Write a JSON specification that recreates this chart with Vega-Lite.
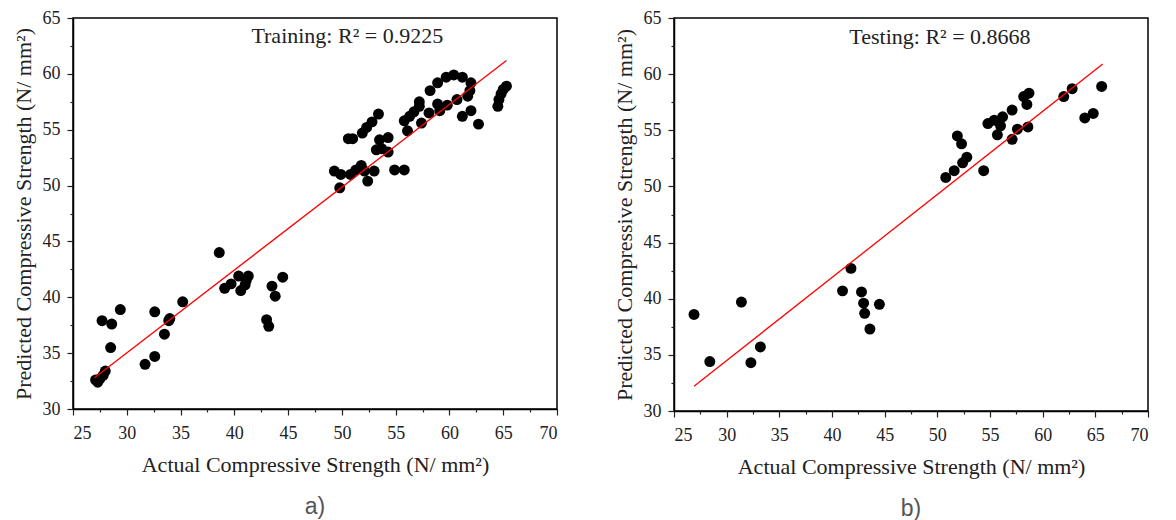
{
  "$schema": "https://vega.github.io/schema/vega-lite/v6.json",
  "background": "white",
  "padding": {"left": 11, "top": 8, "right": 0, "bottom": 0},
  "spacing": 53,
  "config": {
    "view": {"stroke": "black", "strokeWidth": 1.5},
    "font": "Liberation Serif",
    "axis": {
      "grid": false,
      "domainColor": "black",
      "domainWidth": 1.5,
      "tickColor": "#222",
      "tickWidth": 1.2,
      "labelFont": "Liberation Serif",
      "labelFontSize": 18,
      "labelColor": "#222",
      "titleFont": "Liberation Serif",
      "titleFontSize": 22,
      "titleFontWeight": "normal",
      "titleColor": "#222"
    },
    "title": {"font": "Liberation Sans", "fontSize": 23, "fontWeight": "normal", "color": "#555"}
  },
  "datasets": {
    "training": [
      {"x": 27.1, "y": 32.6}, {"x": 27.3, "y": 32.4}, {"x": 27.5, "y": 32.7}, {"x": 27.8, "y": 33.0}, {"x": 28.0, "y": 33.4},
      {"x": 27.7, "y": 37.9}, {"x": 28.6, "y": 37.6}, {"x": 28.5, "y": 35.5}, {"x": 29.4, "y": 38.9}, {"x": 31.7, "y": 34.0},
      {"x": 32.6, "y": 34.7}, {"x": 32.6, "y": 38.7}, {"x": 33.5, "y": 36.7}, {"x": 33.9, "y": 37.9}, {"x": 34.0, "y": 38.1},
      {"x": 35.2, "y": 39.6}, {"x": 38.6, "y": 44.0}, {"x": 39.1, "y": 40.8}, {"x": 39.7, "y": 41.2}, {"x": 40.4, "y": 41.9},
      {"x": 40.6, "y": 40.6}, {"x": 41.0, "y": 41.1}, {"x": 41.1, "y": 41.5}, {"x": 41.3, "y": 41.9}, {"x": 43.0, "y": 38.0},
      {"x": 43.2, "y": 37.4}, {"x": 43.5, "y": 41.0}, {"x": 43.8, "y": 40.1}, {"x": 44.5, "y": 41.8}, {"x": 49.3, "y": 51.3},
      {"x": 49.9, "y": 51.0}, {"x": 49.8, "y": 49.8}, {"x": 50.6, "y": 54.2}, {"x": 51.0, "y": 54.2}, {"x": 50.8, "y": 51.0},
      {"x": 51.3, "y": 51.4}, {"x": 51.8, "y": 51.8}, {"x": 52.1, "y": 51.3}, {"x": 52.4, "y": 50.4}, {"x": 53.0, "y": 51.3},
      {"x": 51.9, "y": 54.7}, {"x": 52.3, "y": 55.2}, {"x": 52.8, "y": 55.7}, {"x": 53.4, "y": 56.4}, {"x": 53.5, "y": 54.1},
      {"x": 53.2, "y": 53.2}, {"x": 53.7, "y": 53.3}, {"x": 54.3, "y": 53.0}, {"x": 54.3, "y": 54.3}, {"x": 54.9, "y": 51.4},
      {"x": 55.8, "y": 51.4}, {"x": 55.8, "y": 55.8}, {"x": 56.1, "y": 54.9}, {"x": 56.3, "y": 56.2}, {"x": 56.7, "y": 56.6},
      {"x": 57.2, "y": 57.1}, {"x": 57.2, "y": 57.5}, {"x": 57.4, "y": 55.6}, {"x": 58.2, "y": 58.5}, {"x": 58.1, "y": 56.5},
      {"x": 58.9, "y": 59.2}, {"x": 59.7, "y": 59.7}, {"x": 60.4, "y": 59.9}, {"x": 61.2, "y": 59.7}, {"x": 62.0, "y": 59.2},
      {"x": 59.1, "y": 56.7}, {"x": 59.8, "y": 57.2}, {"x": 60.7, "y": 57.7}, {"x": 61.7, "y": 58.0}, {"x": 61.9, "y": 58.5},
      {"x": 61.2, "y": 56.2}, {"x": 62.0, "y": 56.7}, {"x": 62.7, "y": 55.5}, {"x": 58.9, "y": 57.3}, {"x": 64.5, "y": 57.1},
      {"x": 64.6, "y": 57.7}, {"x": 64.8, "y": 58.2}, {"x": 65.0, "y": 58.6}, {"x": 65.3, "y": 58.9}
    ],
    "testing": [
      {"x": 26.9, "y": 38.6}, {"x": 28.4, "y": 34.4}, {"x": 31.4, "y": 39.7}, {"x": 32.3, "y": 34.3}, {"x": 33.2, "y": 35.7},
      {"x": 41.0, "y": 40.7}, {"x": 41.8, "y": 42.7}, {"x": 42.8, "y": 40.6}, {"x": 43.0, "y": 39.6}, {"x": 43.1, "y": 38.7},
      {"x": 43.6, "y": 37.3}, {"x": 44.5, "y": 39.5}, {"x": 50.8, "y": 50.8}, {"x": 51.6, "y": 51.4}, {"x": 51.9, "y": 54.5},
      {"x": 52.3, "y": 53.8}, {"x": 52.4, "y": 52.1}, {"x": 52.8, "y": 52.6}, {"x": 54.4, "y": 51.4}, {"x": 54.8, "y": 55.6},
      {"x": 55.4, "y": 55.9}, {"x": 55.7, "y": 54.6}, {"x": 56.0, "y": 55.4}, {"x": 56.2, "y": 56.2}, {"x": 57.1, "y": 54.2},
      {"x": 57.1, "y": 56.8}, {"x": 57.6, "y": 55.1}, {"x": 58.2, "y": 58.0}, {"x": 58.5, "y": 57.3}, {"x": 58.6, "y": 55.3},
      {"x": 58.7, "y": 58.3}, {"x": 62.0, "y": 58.0}, {"x": 62.8, "y": 58.7}, {"x": 64.0, "y": 56.1}, {"x": 64.8, "y": 56.5},
      {"x": 65.6, "y": 58.9}
    ],
    "trainLine": [{"x": 27.0, "y": 32.8}, {"x": 65.3, "y": 61.2}],
    "testLine": [{"x": 26.9, "y": 32.2}, {"x": 65.7, "y": 60.9}],
    "trainLabel": [{"x": 50.5, "y": 63.4, "label": "Training: R² = 0.9225"}],
    "testLabel": [{"x": 50.25, "y": 63.3, "label": "Testing: R² = 0.8668"}]
  },
  "hconcat": [
    {
      "width": 484,
      "height": 391,
      "title": {"text": "a)", "orient": "bottom", "offset": 21},
      "resolve": {"axis": {"x": "independent", "y": "independent"}},
      "layer": [
        {
          "data": {"name": "training"},
          "mark": {"type": "point", "filled": true, "color": "black", "opacity": 1, "size": 120},
          "encoding": {
            "x": {"field": "x", "type": "quantitative", "scale": {"domain": [25, 70], "nice": false, "zero": false},
              "axis": {"orient": "bottom", "values": [25, 30, 35, 40, 45, 50, 55, 60, 65, 70], "title": "Actual Compressive Strength (N/ mm²)", "labelFont": "Liberation Serif", "tickSize": 6, "labelPadding": 9, "titlePadding": 12}},
            "y": {"field": "y", "type": "quantitative", "scale": {"domain": [30, 65], "nice": false, "zero": false},
              "axis": {"orient": "left", "values": [30, 35, 40, 45, 50, 55, 60, 65], "title": "Predicted Compressive Strength (N/ mm²)", "labelFont": "Liberation Serif", "tickSize": 6, "labelPadding": 7, "titlePadding": 7}}
          }
        },
        {
          "data": {"name": "trainLine"},
          "mark": {"type": "line", "color": "#ff0000", "strokeWidth": 1.3},
          "encoding": {
            "x": {"field": "x", "type": "quantitative", "axis": {"orient": "bottom", "values": [27.5, 32.5, 37.5, 42.5, 47.5, 52.5, 57.5, 62.5, 67.5], "labels": false, "domain": false, "tickSize": 3, "title": null}},
            "y": {"field": "y", "type": "quantitative", "axis": {"orient": "left", "values": [32.5, 37.5, 42.5, 47.5, 52.5, 57.5, 62.5], "labels": false, "domain": false, "tickSize": 3, "title": null}}
          }
        },
        {
          "data": {"name": "trainLabel"},
          "mark": {"type": "text", "font": "Liberation Serif", "fontSize": 22, "color": "#222", "align": "center", "baseline": "middle"},
          "encoding": {
            "x": {"field": "x", "type": "quantitative", "axis": null},
            "y": {"field": "y", "type": "quantitative", "axis": null},
            "text": {"field": "label"}
          }
        }
      ]
    },
    {
      "width": 474,
      "height": 393,
      "title": {"text": "b)", "orient": "bottom", "offset": 21},
      "resolve": {"axis": {"x": "independent", "y": "independent"}},
      "layer": [
        {
          "data": {"name": "testing"},
          "mark": {"type": "point", "filled": true, "color": "black", "opacity": 1, "size": 120},
          "encoding": {
            "x": {"field": "x", "type": "quantitative", "scale": {"domain": [25, 70], "nice": false, "zero": false},
              "axis": {"orient": "bottom", "values": [25, 30, 35, 40, 45, 50, 55, 60, 65, 70], "title": "Actual Compressive Strength (N/ mm²)", "labelFont": "Liberation Serif", "tickSize": 6, "labelPadding": 9, "titlePadding": 12}},
            "y": {"field": "y", "type": "quantitative", "scale": {"domain": [30, 65], "nice": false, "zero": false},
              "axis": {"orient": "left", "values": [30, 35, 40, 45, 50, 55, 60, 65], "title": "Predicted Compressive Strength (N/ mm²)", "labelFont": "Liberation Serif", "tickSize": 6, "labelPadding": 7, "titlePadding": 7}}
          }
        },
        {
          "data": {"name": "testLine"},
          "mark": {"type": "line", "color": "#ff0000", "strokeWidth": 1.3},
          "encoding": {
            "x": {"field": "x", "type": "quantitative", "axis": {"orient": "bottom", "values": [27.5, 32.5, 37.5, 42.5, 47.5, 52.5, 57.5, 62.5, 67.5], "labels": false, "domain": false, "tickSize": 3, "title": null}},
            "y": {"field": "y", "type": "quantitative", "axis": {"orient": "left", "values": [32.5, 37.5, 42.5, 47.5, 52.5, 57.5, 62.5], "labels": false, "domain": false, "tickSize": 3, "title": null}}
          }
        },
        {
          "data": {"name": "testLabel"},
          "mark": {"type": "text", "font": "Liberation Serif", "fontSize": 22, "color": "#222", "align": "center", "baseline": "middle"},
          "encoding": {
            "x": {"field": "x", "type": "quantitative", "axis": null},
            "y": {"field": "y", "type": "quantitative", "axis": null},
            "text": {"field": "label"}
          }
        }
      ]
    }
  ]
}
